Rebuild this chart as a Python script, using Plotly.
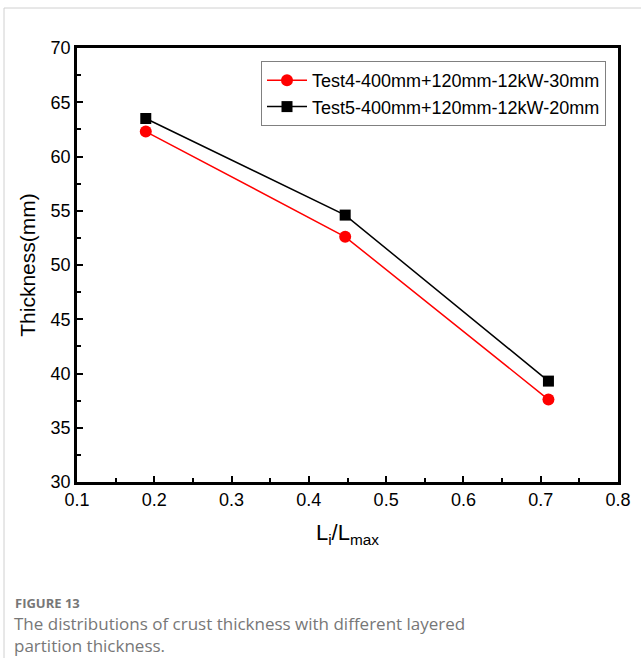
import plotly.graph_objects as go

x_vals = [0.189, 0.447, 0.710]
test4 = [62.3, 52.6, 37.6]
test5 = [63.5, 54.6, 39.3]
name4 = "Test4-400mm+120mm-12kW-30mm"
name5 = "Test5-400mm+120mm-12kW-20mm"

W, H = 641, 658
L, R, T, B = 77, 618, 48, 482
pw, ph = R - L, B - T

def px(x):
    return (x - L) / pw

def py(y):
    return (B - y) / ph

fig = go.Figure()
fig.add_trace(go.Scatter(x=x_vals, y=test4, mode="lines+markers", name=name4,
                         line=dict(color="#ff0000", width=1.5),
                         marker=dict(symbol="circle", size=12, color="#ff0000")))
fig.add_trace(go.Scatter(x=x_vals, y=test5, mode="lines+markers", name=name5,
                         line=dict(color="#000000", width=1.5),
                         marker=dict(symbol="square", size=11, color="#000000")))

axis_font = dict(family="Liberation Sans, Arial", size=18, color="#000")
fig.update_xaxes(range=[0.1, 0.8], dtick=0.1, tick0=0.1, ticks="inside", ticklen=6, tickwidth=2,
                 tickcolor="#000", showline=True, linewidth=2.5, linecolor="#000", mirror=True,
                 showgrid=False, zeroline=False, tickfont=axis_font, tickformat=".1f",
                 minor=dict(dtick=0.05, ticks="inside", ticklen=4, tickwidth=2, tickcolor="#000"),
                 title=dict(text="L<sub>i</sub>/L<sub>max</sub>",
                            font=dict(family="Liberation Sans, Arial", size=22, color="#000"),
                            standoff=16))
fig.update_yaxes(range=[30, 70], dtick=5, ticks="inside", ticklen=6, tickwidth=2,
                 tickcolor="#000", showline=True, linewidth=2.5, linecolor="#000", mirror=True,
                 showgrid=False, zeroline=False, tickfont=axis_font,
                 minor=dict(dtick=2.5, ticks="inside", ticklen=4, tickwidth=2, tickcolor="#000"),
                 title=dict(text="Thickness(mm)",
                            font=dict(family="Liberation Sans, Arial", size=21, color="#000"),
                            standoff=10))

fig.update_layout(
    width=W, height=H,
    margin=dict(l=L, r=W - R, t=T, b=H - B, autoexpand=False),
    paper_bgcolor="white", plot_bgcolor="white",
    showlegend=True,
    legend=dict(x=px(261), y=py(61), xanchor="left", yanchor="top",
                bordercolor="#808080", borderwidth=1, bgcolor="white",
                font=dict(family="Liberation Sans, Arial", size=18, color="#000"),
                itemwidth=40, tracegroupgap=0),
)

# card border
fig.add_shape(type="line", xref="paper", yref="paper", x0=px(4), x1=px(W), y0=py(8), y1=py(8),
              line=dict(color="#d0d0d0", width=1))
fig.add_shape(type="line", xref="paper", yref="paper", x0=px(4), x1=px(4), y0=py(8), y1=py(H),
              line=dict(color="#d0d0d0", width=1))

cap_font = "Open Sans, Noto Sans, sans-serif"
fig.add_annotation(xref="paper", yref="paper", x=px(13), y=py(603), xanchor="left", yanchor="middle",
                   text="<b>FIGURE 13</b>", showarrow=False,
                   font=dict(family=cap_font, size=13, color="#777777"))
fig.add_annotation(xref="paper", yref="paper", x=px(13), y=py(611), xanchor="left", yanchor="top",
                   text="The distributions of crust thickness with different layered<br>partition thickness.",
                   showarrow=False, align="left", borderpad=0,
                   font=dict(family=cap_font, size=17, color="#777777"))

fig.write_html("out.html")
